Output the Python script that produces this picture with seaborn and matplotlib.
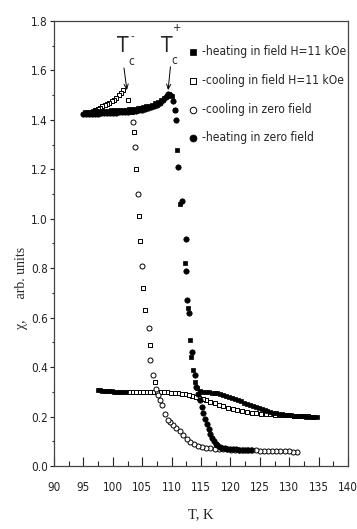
import matplotlib
matplotlib.use("Agg")
import pandas as pd
import matplotlib.pyplot as plt
import seaborn as sns
from matplotlib import font_manager as fm
from matplotlib.ticker import MultipleLocator, FormatStrFormatter

# heating in field H=11 kOe (filled squares)
hf_start_T = [97.4, 97.8, 98.2, 98.6, 99.0, 99.4, 99.8, 100.2, 100.6, 101.0, 101.4, 101.8, 102.2]
hf_start_chi = [0.308, 0.306, 0.305, 0.304, 0.303, 0.302, 0.302, 0.301, 0.300, 0.300, 0.300, 0.299, 0.299]
hf_high_T = [95.2, 95.7, 96.2, 96.7, 97.2, 97.7, 98.2, 98.7, 99.2, 99.7, 100.2, 100.7, 101.2, 101.7,
             102.2, 102.7, 103.2, 103.7, 104.2, 104.7, 105.2, 105.7, 106.2, 106.7, 107.2, 107.7,
             108.2, 108.7, 109.2, 109.6, 110.0]
hf_high_chi = [1.432, 1.432, 1.433, 1.434, 1.434, 1.435, 1.436, 1.436, 1.437, 1.438, 1.438, 1.439,
               1.440, 1.441, 1.442, 1.443, 1.444, 1.446, 1.448, 1.450, 1.452, 1.455, 1.458, 1.462,
               1.467, 1.473, 1.480, 1.488, 1.497, 1.503, 1.495]
hf_drop_T = [110.5, 111.0, 111.5, 112.2, 112.8, 113.2, 113.3, 113.6, 114.0]
hf_drop_chi = [1.44, 1.28, 1.06, 0.82, 0.64, 0.51, 0.44, 0.39, 0.34]
hf_tail_T = [114.4, 114.8, 115.3, 115.8, 116.3, 116.8, 117.3, 117.8, 118.3, 118.8, 119.3, 119.8,
             120.3, 120.8, 121.3, 121.8, 122.3, 122.8, 123.3, 123.8, 124.3, 124.8, 125.3, 125.8,
             126.3, 126.8, 127.3, 127.8, 128.3, 128.8, 129.3, 129.8, 130.3, 130.8, 131.3, 131.8,
             132.3, 132.8, 133.3, 133.8, 134.3, 134.8]
hf_tail_chi = [0.315, 0.305, 0.300, 0.299, 0.298, 0.297, 0.296, 0.294, 0.291, 0.288, 0.284, 0.280,
               0.276, 0.271, 0.266, 0.261, 0.256, 0.251, 0.246, 0.241, 0.237, 0.233, 0.229, 0.225,
               0.222, 0.219, 0.216, 0.213, 0.211, 0.209, 0.207, 0.206, 0.205, 0.204, 0.203, 0.202,
               0.201, 0.200, 0.200, 0.199, 0.199, 0.198]

# cooling in field H=11 kOe (open squares)
cf_tail_T = [134.0, 133.2, 132.4, 131.6, 130.8, 130.0, 129.2, 128.4, 127.6, 126.8, 126.0, 125.2,
             124.4, 123.6, 122.8, 122.0, 121.2, 120.4, 119.6, 118.8, 118.0, 117.3, 116.6, 115.9,
             115.3, 114.7, 114.1, 113.5, 112.9, 112.3, 111.7, 111.1, 110.5, 109.9, 109.3, 108.7,
             108.1, 107.5, 106.9, 106.3, 105.7, 105.1, 104.5, 103.9, 103.3, 102.7]
cf_tail_chi = [0.200, 0.201, 0.202, 0.203, 0.204, 0.205, 0.206, 0.207, 0.208, 0.209, 0.210, 0.211,
               0.213, 0.215, 0.218, 0.221, 0.225, 0.229, 0.235, 0.241, 0.248, 0.254, 0.260, 0.266,
               0.271, 0.276, 0.280, 0.284, 0.287, 0.290, 0.292, 0.294, 0.296, 0.297, 0.298, 0.299,
               0.300, 0.300, 0.300, 0.300, 0.300, 0.300, 0.300, 0.300, 0.300, 0.300]
cf_jump_T = [107.2, 106.4, 105.5, 105.2, 104.7, 104.5, 104.0, 103.6, 103.3, 102.6]
cf_jump_chi = [0.34, 0.49, 0.63, 0.72, 0.91, 1.01, 1.20, 1.35, 1.43, 1.48]
cf_peak_T = [101.8, 101.4, 101.0, 100.6, 100.2, 99.8, 99.4, 99.0, 98.6, 98.2, 97.8, 97.4, 97.0]
cf_peak_chi = [1.52, 1.51, 1.50, 1.49, 1.48, 1.475, 1.47, 1.465, 1.46, 1.455, 1.45, 1.445, 1.44]

# cooling in zero field (open circles)
cz_tail_T = [131.3, 130.6, 129.9, 129.2, 128.5, 127.8, 127.1, 126.4, 125.7, 125.0, 124.3, 123.6,
             122.9, 122.2, 121.5, 120.8, 120.1, 119.4, 118.7, 118.0, 117.3, 116.6, 115.9, 115.2,
             114.5, 113.8, 113.2, 112.6, 112.0, 111.4, 110.8, 110.3, 109.8, 109.4, 108.9, 108.4,
             108.0, 107.7]
cz_tail_chi = [0.058, 0.058, 0.059, 0.059, 0.060, 0.060, 0.061, 0.061, 0.062, 0.062, 0.063, 0.063,
               0.064, 0.064, 0.065, 0.065, 0.066, 0.067, 0.068, 0.069, 0.070, 0.072, 0.074, 0.077,
               0.082, 0.089, 0.098, 0.110, 0.126, 0.140, 0.152, 0.166, 0.176, 0.188, 0.212, 0.245,
               0.268, 0.288]
cz_jump_T = [107.4, 106.9, 106.4, 106.2, 104.9, 104.3, 103.8, 103.5]
cz_jump_chi = [0.31, 0.37, 0.43, 0.56, 0.81, 1.10, 1.29, 1.39]

# heating in zero field (filled circles)
hz_high_T = [95.0, 95.5, 96.0, 96.5, 97.0, 97.5, 98.0, 98.5, 99.0, 99.5, 100.0, 100.5, 101.0,
             101.5, 102.0, 102.5, 103.0, 103.5, 104.0, 104.5, 105.0, 105.5, 106.0, 106.5, 107.0,
             107.5, 108.0, 108.5, 109.0, 109.4, 109.8, 110.2]
hz_high_chi = [1.422, 1.423, 1.424, 1.424, 1.425, 1.425, 1.426, 1.426, 1.427, 1.428, 1.428, 1.429,
               1.430, 1.431, 1.432, 1.433, 1.434, 1.435, 1.437, 1.439, 1.441, 1.444, 1.447, 1.451,
               1.456, 1.462, 1.470, 1.480, 1.492, 1.505, 1.500, 1.475]
hz_drop_T = [110.6, 110.8, 111.1, 111.7, 112.5, 112.5, 112.6, 113.0, 113.5, 113.9]
hz_drop_chi = [1.44, 1.40, 1.21, 1.07, 0.92, 0.79, 0.67, 0.62, 0.46, 0.37]
hz_tail_T = [114.2, 114.5, 114.8, 115.1, 115.4, 115.7, 116.0, 116.3, 116.6, 116.9, 117.2, 117.5,
             117.8, 118.2, 118.6, 119.0, 119.5, 120.0, 120.5, 121.0, 121.5, 122.0, 122.5, 123.0,
             123.5]
hz_tail_chi = [0.320, 0.290, 0.265, 0.240, 0.215, 0.190, 0.170, 0.150, 0.130, 0.115, 0.100, 0.090,
               0.083, 0.078, 0.074, 0.072, 0.070, 0.069, 0.068, 0.067, 0.066, 0.066, 0.065, 0.065,
               0.064]

labels = ["-heating in field H=11 kOe", "-cooling in field H=11 kOe",
          "-cooling in zero field", "-heating in zero field"]
x_ticks = [90, 95, 100, 105, 110, 115, 120, 125, 130, 135, 140]


def pick_narrow_font():
    # prefer a narrow / condensed sans face if one is installed
    for f in fm.fontManager.ttflist:
        fn = f.fname.lower()
        if ("narrow" in fn or "condensed" in fn) and "sans" in fn \
                and f.style == "normal" and f.weight in (400, "normal", "regular"):
            return f.name, f.stretch
    return "Liberation Sans", "normal"


def fit_size(fig, text, target_px, family, stretch="normal", base=10.0):
    # font size that makes `text` about target_px wide
    t = fig.text(0, 0, text, fontsize=base, family=family, stretch=stretch)
    w = t.get_window_extent(fig.canvas.get_renderer()).width
    t.remove()
    return base * target_px / w


sns.set_style("ticks")
sans, stretch = pick_narrow_font()
serif = "Liberation Serif"
plt.rcParams["font.family"] = [sans, "DejaVu Sans"]
plt.rcParams["font.stretch"] = stretch

hf = pd.DataFrame({"T": hf_start_T + hf_high_T + hf_drop_T + hf_tail_T,
                   "chi": hf_start_chi + hf_high_chi + hf_drop_chi + hf_tail_chi})
cf = pd.DataFrame({"T": cf_tail_T + cf_jump_T + cf_peak_T,
                   "chi": cf_tail_chi + cf_jump_chi + cf_peak_chi})
cz = pd.DataFrame({"T": cz_tail_T + cz_jump_T,
                   "chi": cz_tail_chi + cz_jump_chi})
hz = pd.DataFrame({"T": hz_high_T + hz_drop_T + hz_tail_T,
                   "chi": hz_high_chi + hz_drop_chi + hz_tail_chi})

fig = plt.figure(figsize=(3.57, 5.29), dpi=100)
ax = fig.add_axes([0.1513, 0.1191, 0.8235, 0.8412])

leg_size = min(11.0, fit_size(fig, labels[0], 145, sans, stretch))
tick_size = min(9.5, fit_size(fig, "100", 20, sans, stretch))

sns.scatterplot(data=cf, x="T", y="chi", marker="s", s=11, color="white",
                edgecolor="black", linewidth=0.7, label=labels[1], ax=ax, zorder=2)
sns.scatterplot(data=cz, x="T", y="chi", marker="o", s=13, color="white",
                edgecolor="black", linewidth=0.7, label=labels[2], ax=ax, zorder=2)
sns.scatterplot(data=hf, x="T", y="chi", marker="s", s=12, color="black",
                edgecolor="black", linewidth=0.5, label=labels[0], ax=ax, zorder=3)
sns.scatterplot(data=hz, x="T", y="chi", marker="o", s=15, color="black",
                edgecolor="black", linewidth=0.5, label=labels[3], ax=ax, zorder=3)

ax.set_xlim(90, 140)
ax.set_ylim(0, 1.8)
ax.set_xticks(x_ticks)
ax.xaxis.set_minor_locator(MultipleLocator(2.5))
ax.yaxis.set_major_locator(MultipleLocator(0.2))
ax.yaxis.set_minor_locator(MultipleLocator(0.1))
ax.yaxis.set_major_formatter(FormatStrFormatter("%.1f"))
ax.tick_params(axis="x", which="major", direction="in", length=6.5, width=0.8,
               pad=11, labelsize=tick_size, colors="#222222")
ax.tick_params(axis="x", which="minor", direction="in", length=3.5, width=0.8)
ax.tick_params(axis="y", which="major", direction="out", length=3, width=0.8,
               pad=1.5, labelsize=tick_size, colors="#222222")
ax.tick_params(axis="y", which="minor", direction="out", length=1.5, width=0.8)
for sp in ax.spines.values():
    sp.set_linewidth(0.9)
    sp.set_color("#444444")

ax.set_xlabel("T, K", fontfamily=serif, fontsize=10.5)
ax.xaxis.set_label_coords(0.5, -0.094)
ax.set_ylabel("χ,      arb. units", fontfamily=serif, fontsize=10)
ax.yaxis.set_label_coords(-0.088, 0.40)

# T_c markers
ax.text(101.7, 1.70, "T", fontsize=15, ha="center", va="center")
ax.text(103.1, 1.635, "c", fontsize=8.5, ha="center", va="center")
ax.text(103.3, 1.74, "-", fontsize=8, ha="center", va="center")
ax.text(109.2, 1.70, "T", fontsize=15, ha="center", va="center")
ax.text(110.5, 1.64, "c", fontsize=8.5, ha="center", va="center")
ax.text(110.9, 1.77, "+", fontsize=8, ha="center", va="center")
arrow = dict(arrowstyle="->,head_length=0.35,head_width=0.15", lw=0.7, color="black",
             shrinkA=0, shrinkB=0)
ax.annotate("", xy=(102.4, 1.52), xytext=(101.9, 1.61), arrowprops=arrow)
ax.annotate("", xy=(109.4, 1.52), xytext=(109.8, 1.615), arrowprops=arrow)

handles, labs = ax.get_legend_handles_labels()
order = [labs.index(l) for l in labels]
ax.legend([handles[i] for i in order], labels, loc="upper left",
          bbox_to_anchor=(0.458, 0.945), frameon=False, fontsize=leg_size,
          handlelength=0.8, handletextpad=0.3, labelspacing=1.3,
          borderpad=0, borderaxespad=0, markerscale=1.3)

fig.savefig("out.png", dpi=100)
